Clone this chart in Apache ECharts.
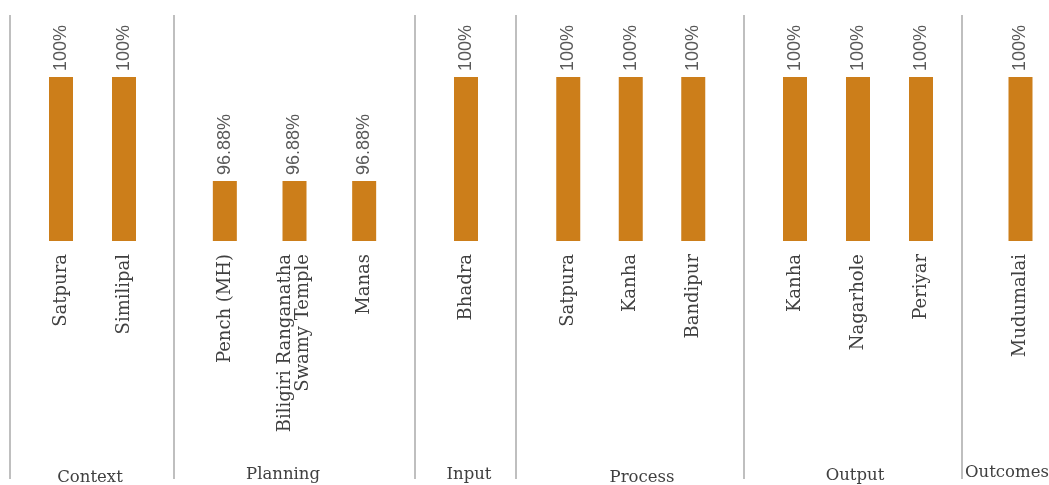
<!DOCTYPE html>
<html>
<head>
<meta charset="utf-8">
<script src="https://cdn.jsdelivr.net/npm/echarts@6/dist/echarts.min.js"></script>
<style>html,body{margin:0;padding:0;background:#fff}#c{width:1049px;height:485px}</style>
</head>
<body>
<div id="c"></div>
<script>
const groupNames = ['Context', 'Planning', 'Input', 'Process', 'Output', 'Outcomes'];
const contextSites = ['Satpura', 'Similipal'];
const contextValues = [100, 100];
const planningSites = ['Pench (MH)', 'Biligiri Ranganatha\nSwamy Temple', 'Manas'];
const planningValues = [96.88, 96.88, 96.88];
const inputSites = ['Bhadra'];
const inputValues = [100];
const processSites = ['Satpura', 'Kanha', 'Bandipur'];
const processValues = [100, 100, 100];
const outputSites = ['Kanha', 'Nagarhole', 'Periyar'];
const outputValues = [100, 100, 100];
const outcomesSites = ['Mudumalai'];
const outcomesValues = [100];

const panels = [
  [contextSites, contextValues],
  [planningSites, planningValues],
  [inputSites, inputValues],
  [processSites, processValues],
  [outputSites, outputValues],
  [outcomesSites, outcomesValues]
];
// layout (pixel placement of each panel)
const gridBoxes = [
  {left: 29.5, width: 126},
  {left: 190, width: 209},
  {left: 416, width: 100},
  {left: 537, width: 187.5},
  {left: 763.5, width: 189},
  {left: 992, width: 60}
];
const separatorsX = [10, 174, 415, 516, 744, 962];
const groupLabelPos = [[90, 478], [283, 475], [469, 475], [642, 478], [855, 476], [1007, 473]];

const serif = 'DejaVu Serif';
const chart = echarts.init(document.getElementById('c'), null, {renderer: 'canvas'});
const grids = [], xAxes = [], yAxes = [], series = [];
panels.forEach((p, i) => {
  grids.push({left: gridBoxes[i].left, width: gridBoxes[i].width, top: 77, bottom: 244, containLabel: false});
  xAxes.push({
    type: 'category', gridIndex: i, data: p[0],
    axisLine: {show: false}, axisTick: {show: false},
    axisLabel: {interval: 0, rotate: 90, margin: 13, fontFamily: serif, fontSize: 18, color: '#404040', lineHeight: 18}
  });
  yAxes.push({type: 'value', gridIndex: i, min: 95.08, max: 100, show: false, splitLine: {show: false}});
  series.push({
    type: 'bar', xAxisIndex: i, yAxisIndex: i, data: p[1], barWidth: 24,
    itemStyle: {color: '#CC7E1A'},
    label: {
      show: true, position: 'top', rotate: 90, align: 'left', verticalAlign: 'middle', distance: 6,
      fontFamily: 'Liberation Sans', fontSize: 18, color: '#595959',
      formatter: v => v.value + '%'
    },
    silent: true
  });
});
const graphic = [];
separatorsX.forEach(x => {
  graphic.push({type: 'line', shape: {x1: x, y1: 15, x2: x, y2: 479}, style: {stroke: '#bfbfbf', lineWidth: 2}, silent: true});
});
groupNames.forEach((g, i) => {
  graphic.push({type: 'text', x: groupLabelPos[i][0], y: groupLabelPos[i][1],
    style: {text: g, font: '16.5px "DejaVu Serif"', fill: '#404040', align: 'center', verticalAlign: 'middle'}, silent: true});
});
chart.setOption({animation: false, grid: grids, xAxis: xAxes, yAxis: yAxes, series: series, graphic: graphic});
</script>
</body>
</html>
